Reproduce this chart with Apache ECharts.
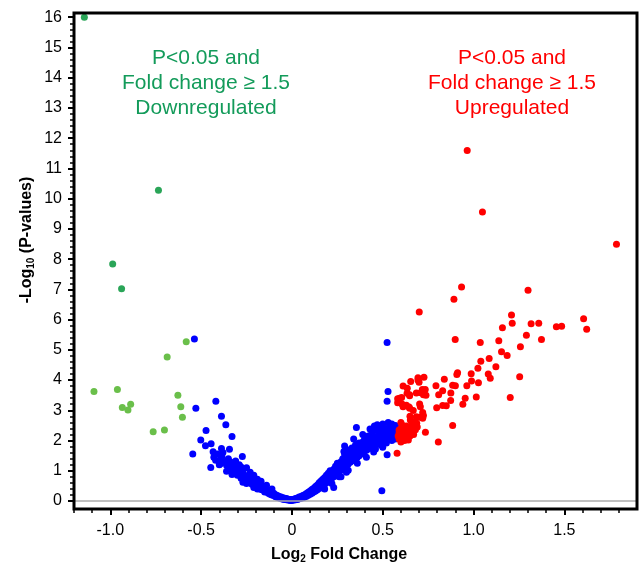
<!DOCTYPE html>
<html>
<head>
<meta charset="utf-8">
<script src="https://cdn.jsdelivr.net/npm/echarts@6/dist/echarts.min.js"></script>
<style>html,body{margin:0;padding:0;background:#fff}#c{width:639px;height:567px}</style>
</head>
<body>
<div id="c"></div>
<script>
// ---- Data (log2 fold change, -log10 p) ----
const downDark = [[-1.143,16.0],[-0.735,10.28],[-0.987,7.84],[-0.938,7.02]];
const downLight = [[-0.582,5.27],[-0.687,4.76],[-1.09,3.62],[-0.961,3.69],[-0.628,3.50],[-0.934,3.09],[-0.888,3.20],[-0.903,3.01],[-0.612,3.12],[-0.603,2.77],[-0.764,2.29],[-0.702,2.35]];
const notSig = [
[-0.537,5.36],[-0.419,3.30],[-0.529,3.07],[-0.388,2.80],[-0.364,2.52],[-0.33,2.13],[-0.473,2.33],[-0.502,2.02],[-0.476,1.83],[-0.445,1.89],[-0.434,1.63],[-0.546,1.55],[-0.388,1.74],[-0.344,1.71],[-0.386,1.47],[-0.273,1.47],[-0.447,1.11],[-0.396,1.22],
[-0.42,1.35],[-0.41,1.55],[-0.40,1.20],[-0.39,1.40],[-0.38,1.60],[-0.43,1.45],[-0.35,1.10],[-0.34,1.30],[-0.32,1.10],[-0.31,0.90],
[-0.37,1.30],[-0.36,1.18],[-0.35,1.40],[-0.34,1.05],[-0.33,1.25],[-0.32,0.95],[-0.31,1.15],[-0.30,0.85],[-0.30,1.05],[-0.29,1.20],[-0.28,0.90],[-0.28,0.75],[-0.27,1.00],[-0.26,0.70],[-0.26,0.85],[-0.25,1.10],[-0.24,0.62],[-0.24,0.78],[-0.23,0.95],[-0.22,0.55],[-0.22,0.70],[-0.21,0.85],[-0.20,0.50],[-0.20,0.62],[-0.19,0.72],[-0.18,0.42],[-0.18,0.55],[-0.17,0.65],[-0.16,0.36],[-0.16,0.48],[-0.15,0.30],[-0.15,0.42],[-0.14,0.52],[-0.13,0.26],[-0.13,0.36],[-0.12,0.22],[-0.12,0.30],[-0.11,0.40],[-0.10,0.18],[-0.10,0.26],[-0.09,0.14],[-0.09,0.21],[-0.08,0.12],[-0.08,0.18],[-0.07,0.10],[-0.07,0.15],[-0.06,0.08],[-0.06,0.13],[-0.05,0.06],[-0.05,0.11],[-0.04,0.05],[-0.04,0.09],[-0.03,0.04],[-0.03,0.08],[-0.02,0.03],[-0.02,0.06],[-0.01,0.02],[-0.01,0.05],[0.00,0.02],[0.00,0.05],
[-0.36,0.98],[-0.33,0.88],[-0.29,0.95],[-0.27,0.62],[-0.25,0.58],[-0.23,0.66],[-0.21,0.45],[-0.19,0.40],[-0.17,0.38],[-0.14,0.31],[-0.11,0.20],[-0.31,1.32],[-0.28,1.12],
[0.01,0.03],[0.01,0.06],[0.02,0.04],[0.02,0.08],[0.03,0.05],[0.03,0.10],[0.04,0.07],[0.04,0.13],[0.05,0.09],[0.05,0.15],[0.06,0.11],[0.06,0.18],[0.07,0.13],[0.07,0.21],[0.08,0.16],[0.08,0.25],[0.09,0.19],[0.09,0.29],[0.10,0.22],[0.10,0.33],[0.11,0.26],[0.11,0.38],[0.12,0.30],[0.12,0.42],[0.13,0.33],[0.13,0.48],[0.14,0.37],[0.14,0.53],[0.15,0.41],[0.15,0.60],[0.16,0.45],[0.16,0.66],[0.17,0.50],[0.17,0.72],[0.17,0.60],[0.18,0.55],[0.18,0.78],[0.19,0.60],[0.19,0.85],[0.19,0.70],[0.20,0.65],[0.20,0.92],[0.21,0.70],[0.21,0.82],[0.21,1.00],[0.22,0.76],[0.22,0.90],[0.23,0.80],[0.23,1.05],[0.23,0.95],[0.24,0.86],[0.24,1.15],[0.25,0.92],[0.25,1.05],[0.25,1.25],[0.26,0.98],[0.26,1.12],[0.27,1.02],[0.27,1.30],[0.27,1.18],[0.28,1.08],[0.28,1.40],[0.29,1.12],[0.29,1.25],[0.29,1.55],[0.30,1.18],[0.30,1.35],[0.30,1.70],[0.31,1.22],[0.31,1.45],[0.32,1.28],[0.32,1.60],[0.32,1.38],[0.33,1.32],[0.33,1.50],[0.33,1.75],[0.34,1.36],[0.34,1.62],[0.35,1.40],[0.35,1.55],[0.35,1.85],[0.36,1.45],[0.36,1.70],[0.37,1.50],[0.37,1.92],[0.37,1.62],[0.38,1.55],[0.38,1.78],[0.39,1.60],[0.39,1.95],[0.39,1.72],[0.40,1.65],[0.40,1.85],[0.40,2.05],[0.41,1.68],[0.41,1.95],[0.42,1.72],[0.42,1.88],[0.42,2.15],[0.43,1.78],[0.43,2.02],[0.44,1.80],[0.44,1.95],[0.44,2.25],[0.45,1.85],[0.45,2.10],[0.46,1.72],[0.46,1.98],[0.46,2.35],[0.47,1.90],[0.47,2.15],[0.48,1.95],[0.48,2.30],[0.48,2.05],[0.49,1.85],[0.49,2.20],[0.49,2.45],[0.50,1.98],[0.50,2.12],[0.50,2.55],[0.51,2.02],[0.51,2.30],[0.52,1.92],[0.52,2.15],[0.52,2.40],[0.53,2.05],[0.53,2.25],[0.53,2.60],[0.54,2.10],[0.54,2.45],[0.55,2.00],[0.55,2.30],[0.55,2.55],[0.56,2.15],[0.56,2.40],[0.57,2.05],[0.57,2.28],[0.57,2.50],[0.58,2.20],[0.58,2.35],
[0.524,5.24],[0.529,3.62],[0.524,3.30],[0.495,0.34],[0.355,2.43],[0.454,2.48],[0.286,1.64],[0.524,1.53],[0.23,0.45],[0.30,0.95],[0.26,0.80],
[0.18,0.40],[0.22,0.58],[0.27,0.80],[0.31,1.02],[0.36,1.25],[0.41,1.45],[0.45,1.62],[0.50,1.78],[0.34,2.05],[0.29,1.82],[0.43,2.38],[0.47,2.52],[0.39,2.20]
];
const up = [
[0.965,11.59],[1.049,9.56],[1.787,8.49],[0.934,7.08],[0.892,6.67],[1.30,6.97],[0.701,6.25],[1.209,6.15],[1.213,5.88],[1.317,5.86],[1.359,5.88],[1.159,5.73],[1.456,5.76],[1.485,5.78],[1.606,6.03],[1.623,5.68],[1.291,5.48],[1.374,5.34],[0.899,5.34],[1.037,5.24],[1.139,5.30],[1.258,5.10],[1.154,4.94],[1.185,4.81],[1.04,4.62],[1.086,4.71],[1.024,4.39],[1.123,4.44],[0.912,4.24],[0.908,4.18],[0.987,4.21],[1.081,4.20],[1.092,4.06],[0.989,3.97],[1.027,3.91],[0.963,3.81],[1.254,4.11],[1.202,3.42],[1.015,3.44],[0.954,3.40],[0.941,3.20],[0.885,2.50],[0.806,1.95],[0.735,2.27],[0.579,1.58],[0.839,4.03],[0.793,3.81],[0.83,3.65],[0.808,3.51],[0.885,3.83],[0.90,3.81],[0.875,3.57],[0.874,3.32],[0.85,3.15],[0.83,3.16],[0.797,3.08],[0.727,4.09],[0.694,4.08],[0.654,3.95],[0.70,3.93],[0.612,3.80],[0.635,3.73],[0.685,3.57],[0.718,3.69],[0.734,3.69],[0.709,3.58],[0.724,3.51],[0.738,3.50],[0.634,3.56],[0.648,3.48],[0.604,3.42],[0.582,3.38],[0.582,3.25],[0.606,3.21],[0.63,3.17],[0.645,3.11],[0.703,3.21],[0.707,3.12],[0.668,2.99],[0.65,2.80],[0.72,2.93],[0.724,2.83],[0.702,2.77],[0.652,2.68],[0.668,2.62],[0.687,2.57],[0.72,2.74],[0.68,2.36],[0.63,2.48],[0.641,2.02],
[0.59,2.05],[0.59,2.25],[0.60,1.95],[0.60,2.15],[0.60,2.40],[0.61,2.05],[0.61,2.30],[0.62,2.00],[0.62,2.20],[0.62,2.45],[0.63,2.10],[0.63,2.35],[0.64,2.25],[0.65,2.15],[0.65,2.40],[0.66,2.30],[0.67,2.20],[0.59,2.35],[0.61,2.50],[0.585,2.15],[0.60,2.60],[0.66,2.52],[0.69,2.45],[0.612,2.13],[0.593,3.40],[0.612,3.12],[0.648,3.07],[0.685,2.79],[0.694,4.00],[0.648,3.51]
];
const xMajorTicks = [-1, -0.5, 0, 0.5, 1, 1.5];
const xMinorTicks = [-1.2,-1.1,-1.0,-0.9,-0.8,-0.7,-0.6,-0.5,-0.4,-0.3,-0.2,-0.1,0,0.1,0.2,0.3,0.4,0.5,0.6,0.7,0.8,0.9,1.0,1.1,1.2,1.3,1.4,1.5,1.6,1.7,1.8];
const yMajorTicks = [0,1,2,3,4,5,6,7,8,9,10,11,12,13,14,15,16];
const yMinorTicks = [0,0.2,0.4,0.6,0.8,1,1.2,1.4,1.6,1.8,2,2.2,2.4,2.6,2.8,3,3.2,3.4,3.6,3.8,4,4.2,4.4,4.6,4.8,5,5.2,5.4,5.6,5.8,6,6.2,6.4,6.6,6.8,7,7.2,7.4,7.6,7.8,8,8.2,8.4,8.6,8.8,9,9.2,9.4,9.6,9.8,10,10.2,10.4,10.6,10.8,11,11.2,11.4,11.6,11.8,12,12.2,12.4,12.6,12.8,13,13.2,13.4,13.6,13.8,14,14.2,14.4,14.6,14.8,15,15.2,15.4,15.6,15.8,16];

const FONT = 'Arial, "Liberation Sans", sans-serif';
const X_MIN = -1.2, X_MAX = 1.9, Y_MIN = -0.265, Y_MAX = 16.14;
const gridRect = { left: 74, right: 2, top: 13, bottom: 58 };

const chart = echarts.init(document.getElementById('c'), null, { renderer: 'canvas' });
chart.setOption({
  animation: false,
  backgroundColor: '#fff',
  grid: [
    Object.assign({ show: true, borderColor: '#000', borderWidth: 3, backgroundColor: 'transparent', z: 10 }, gridRect),
    Object.assign({ show: false }, gridRect)
  ],
  xAxis: [
    { type: 'value', gridIndex: 0, min: X_MIN, max: X_MAX, position: 'bottom',
      axisLine: { show: false, onZero: false }, splitLine: { show: false },
      axisTick: { show: true, inside: false, length: 6, customValues: xMajorTicks, lineStyle: { color: '#000', width: 2 } },
      axisLabel: { show: true, customValues: xMajorTicks, margin: 14, fontSize: 16, color: '#000', fontFamily: FONT,
        formatter: v => (Math.abs(v) < 1e-9 ? '0' : v.toFixed(1)) } },
    { type: 'value', gridIndex: 1, min: X_MIN, max: X_MAX, position: 'bottom',
      axisLine: { show: false, onZero: false }, splitLine: { show: false }, axisLabel: { show: false },
      axisTick: { show: true, inside: false, length: 4, customValues: xMinorTicks, lineStyle: { color: '#000', width: 1.5 } } }
  ],
  yAxis: [
    { type: 'value', gridIndex: 0, min: Y_MIN, max: Y_MAX, position: 'left',
      axisLine: { show: false, onZero: false }, splitLine: { show: false },
      axisTick: { show: true, inside: false, length: 6, customValues: yMajorTicks, lineStyle: { color: '#000', width: 2 } },
      axisLabel: { show: true, customValues: yMajorTicks, margin: 12, fontSize: 16, color: '#000', fontFamily: FONT } },
    { type: 'value', gridIndex: 1, min: Y_MIN, max: Y_MAX, position: 'left',
      axisLine: { show: false, onZero: false }, splitLine: { show: false }, axisLabel: { show: false },
      axisTick: { show: true, inside: false, length: 4, customValues: yMinorTicks, lineStyle: { color: '#000', width: 1.5 } } }
  ],
  series: [
    { type: 'line', xAxisIndex: 0, yAxisIndex: 0, data: [], z: 1, silent: true,
      markLine: { silent: true, symbol: 'none', label: { show: false },
        lineStyle: { color: '#ababab', width: 1.5, type: 'solid' }, data: [{ yAxis: 0 }] } },
    { type: 'scatter', name: 'ns', data: notSig, symbolSize: 7, z: 2, itemStyle: { color: '#0000ff', opacity: 1 } },
    { type: 'scatter', name: 'up', data: up, symbolSize: 7, z: 3, itemStyle: { color: '#ff0000', opacity: 1 } },
    { type: 'scatter', name: 'downLight', data: downLight, symbolSize: 7, z: 3, itemStyle: { color: '#6abf4a', opacity: 1 } },
    { type: 'scatter', name: 'downDark', data: downDark, symbolSize: 7, z: 3, itemStyle: { color: '#2aa558', opacity: 1 } }
  ],
  graphic: [
    { type: 'text', x: 206, y: 83, z: 20, style: { text: 'P<0.05 and\nFold change \u2265 1.5\nDownregulated', fill: '#139b5a', fontSize: 21, fontFamily: FONT, lineHeight: 25, align: 'center', verticalAlign: 'middle' } },
    { type: 'text', x: 512, y: 83, z: 20, style: { text: 'P<0.05 and\nFold change \u2265 1.5\nUpregulated', fill: '#ff0000', fontSize: 21, fontFamily: FONT, lineHeight: 25, align: 'center', verticalAlign: 'middle' } },
    { type: 'text', x: 339, y: 555, z: 20, style: { text: '{b|Log}{s|2}{b| Fold Change}', align: 'center', verticalAlign: 'middle',
        rich: { b: { fontSize: 16, fontWeight: 'bold', fontFamily: FONT, fill: '#000', lineHeight: 18 },
                s: { fontSize: 10, fontWeight: 'bold', fontFamily: FONT, fill: '#000', lineHeight: 8, verticalAlign: 'bottom' } } } },
    { type: 'text', x: 27, y: 240, rotation: Math.PI / 2, z: 20, style: { text: '{b|-Log}{s|10}{b| (P-values)}', align: 'center', verticalAlign: 'middle',
        rich: { b: { fontSize: 16, fontWeight: 'bold', fontFamily: FONT, fill: '#000', lineHeight: 18 },
                s: { fontSize: 10, fontWeight: 'bold', fontFamily: FONT, fill: '#000', lineHeight: 8, verticalAlign: 'bottom' } } } }
  ]
});
</script>
</body>
</html>
